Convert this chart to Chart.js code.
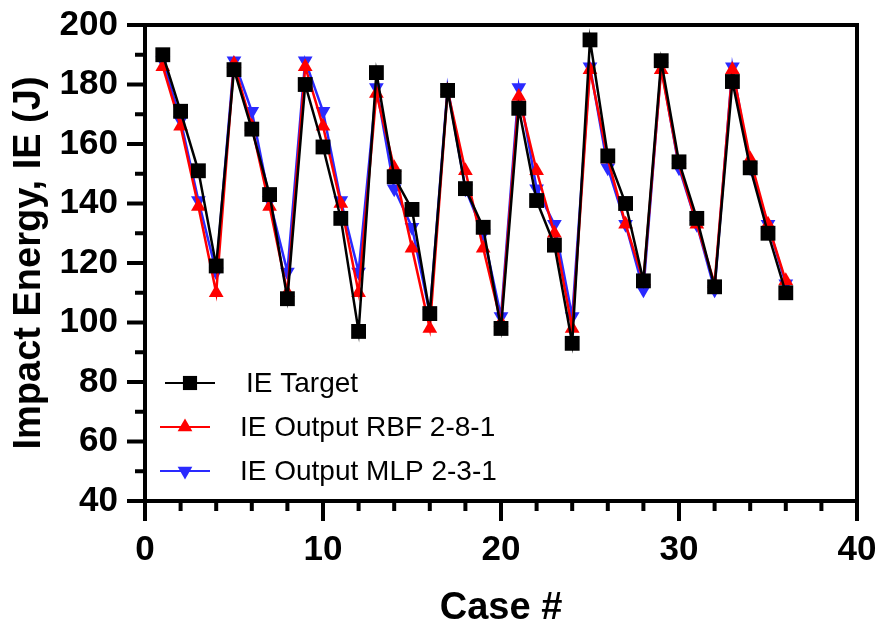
<!DOCTYPE html>
<html>
<head>
<meta charset="utf-8">
<script src="https://cdn.jsdelivr.net/npm/chart.js@4"></script>
<style>
    html, body { margin: 0; padding: 0; background: #ffffff; }
    #wrap { width: 877px; height: 622px; }
</style>
</head>
<body>
<div id="wrap"><canvas id="chart"></canvas></div>
<script>
// Case numbers 1..36
const cases = [1, 2, 3, 4, 5, 6, 7, 8, 9, 10, 11, 12, 13, 14, 15, 16, 17, 18,
    19, 20, 21, 22, 23, 24, 25, 26, 27, 28, 29, 30, 31, 32, 33, 34, 35, 36];

const ieTarget = [190, 171, 151, 119, 185, 165, 143, 108, 180, 159, 135, 97,
    184, 149, 138, 103, 178, 145, 132, 98, 172, 141, 126, 93,
    195, 156, 140, 114, 188, 154, 135, 112, 181, 152, 130, 110];

const ieRbf = [186, 166, 139, 110, 187, 166, 139, 110, 186, 166, 140, 110,
    177, 152, 125, 98, 178, 151, 125, 100, 176, 151, 130, 98,
    185, 155, 133, 114, 185, 153, 133, 113, 185, 155, 133, 114];

const ieMlp = [188, 168, 141, 117, 188, 171, 141, 117, 188, 171, 141, 117,
    179, 145, 132, 103, 179, 145, 130, 102, 179, 145, 133, 102,
    186, 152, 133, 111, 186, 152, 133, 111, 186, 152, 133, 113];

const xTicks = [0, 10, 20, 30, 40];
const yTicks = [40, 60, 80, 100, 120, 140, 160, 180, 200];

const FONT = "'Liberation Sans', Arial, sans-serif";
const BLUE = '#2a2aff';

function toPoints(ys) {
    return cases.map((c, i) => ({ x: c, y: ys[i] }));
}

function noPad(s) {
    s.paddingTop = 0;
    s.paddingBottom = 0;
    s.paddingLeft = 0;
    s.paddingRight = 0;
}

// Box frame plus major/minor ticks, placed with the scales
const framePlugin = {
    id: 'frame',
    afterDraw(chart) {
        const ctx = chart.ctx;
        const a = chart.chartArea;
        const xs = chart.scales.x;
        const ys = chart.scales.y;
        ctx.save();
        ctx.strokeStyle = '#000';
        ctx.lineWidth = 4;
        ctx.strokeRect(a.left, a.top, a.right - a.left, a.bottom - a.top);
        ctx.beginPath();
        for (let v = 0; v <= 40; v += 2) {
            const px = xs.getPixelForValue(v);
            const len = v % 10 === 0 ? 20 : 10;
            ctx.moveTo(px, a.bottom);
            ctx.lineTo(px, a.bottom + len);
        }
        for (let v = 40; v <= 200; v += 10) {
            const py = ys.getPixelForValue(v);
            const len = v % 20 === 0 ? 18 : 10;
            ctx.moveTo(a.left, py);
            ctx.lineTo(a.left - len, py);
        }
        ctx.stroke();
        ctx.restore();
    }
};

// Legend inside the plot, lower left
const legendPlugin = {
    id: 'insideLegend',
    afterDraw(chart) {
        const ctx = chart.ctx;
        const rows = [
            { label: 'IE Target', color: '#000000', style: 'rect', rot: 0, r: 10, y: 383, x0: 165, x1: 215, tx: 246 },
            { label: 'IE Output RBF 2-8-1', color: '#ff0000', style: 'triangle', rot: 0, r: 8.5, y: 427, x0: 160, x1: 210, tx: 240 },
            { label: 'IE Output MLP 2-3-1', color: BLUE, style: 'triangle', rot: 180, r: 8.5, y: 471, x0: 160, x1: 210, tx: 240 }
        ];
        ctx.save();
        rows.forEach(r => {
            ctx.strokeStyle = r.color;
            ctx.lineWidth = 2;
            ctx.beginPath();
            ctx.moveTo(r.x0, r.y);
            ctx.lineTo(r.x1, r.y);
            ctx.stroke();
            ctx.fillStyle = r.color;
            Chart.helpers.drawPoint(ctx, {
                pointStyle: r.style, radius: r.r, rotation: r.rot, borderWidth: 0
            }, (r.x0 + r.x1) / 2, r.y);
            ctx.fillStyle = '#000';
            ctx.font = '28px ' + FONT;
            ctx.textBaseline = 'middle';
            ctx.fillText(r.label, r.tx, r.y + 1);
        });
        ctx.restore();
    }
};

const ctx = document.getElementById('chart').getContext('2d');
new Chart(ctx, {
    type: 'line',
    data: {
        datasets: [
            {
                label: 'IE Target',
                data: toPoints(ieTarget),
                borderColor: '#000000',
                backgroundColor: '#000000',
                borderWidth: 2.5,
                pointStyle: 'rect',
                pointRadius: 10.5,
                pointBorderWidth: 0,
                tension: 0
            },
            {
                label: 'IE Output RBF 2-8-1',
                data: toPoints(ieRbf),
                borderColor: '#ff0000',
                backgroundColor: '#ff0000',
                borderWidth: 2.5,
                pointStyle: 'triangle',
                pointRadius: 8.5,
                pointBorderWidth: 0,
                tension: 0
            },
            {
                label: 'IE Output MLP 2-3-1',
                data: toPoints(ieMlp),
                borderColor: BLUE,
                backgroundColor: BLUE,
                borderWidth: 2.5,
                pointStyle: 'triangle',
                pointRotation: 180,
                pointRadius: 8.5,
                pointBorderWidth: 0,
                tension: 0
            }
        ]
    },
    options: {
        responsive: true,
        maintainAspectRatio: false,
        animation: false,
        layout: { padding: { top: 25, right: 20, left: 0, bottom: 0 } },
        plugins: {
            legend: { display: false },
            tooltip: { enabled: false }
        },
        scales: {
            x: {
                type: 'linear',
                min: 0,
                max: 40,
                afterBuildTicks: (s) => { s.ticks = xTicks.map(v => ({ value: v })); },
                grid: { display: false, drawTicks: false },
                border: { display: false },
                ticks: {
                    padding: 28,
                    color: '#000',
                    font: { family: FONT, size: 35, weight: 'bold' }
                },
                title: {
                    display: true,
                    text: 'Case #',
                    color: '#000',
                    padding: { top: 0, bottom: -9 },
                    font: { family: FONT, size: 38, weight: 'bold' }
                },
                afterFit: (s) => { s.height = 121; noPad(s); }
            },
            y: {
                type: 'linear',
                min: 40,
                max: 200,
                afterBuildTicks: (s) => { s.ticks = yTicks.map(v => ({ value: v })); },
                grid: { display: false, drawTicks: false },
                border: { display: false },
                ticks: {
                    padding: 27,
                    color: '#000',
                    font: { family: FONT, size: 35, weight: 'bold' }
                },
                title: {
                    display: true,
                    text: 'Impact Energy, IE (J)',
                    color: '#000',
                    padding: { top: 7, bottom: 0 },
                    font: { family: FONT, size: 38, weight: 'bold' }
                },
                afterFit: (s) => { s.width = 145; noPad(s); }
            }
        }
    },
    plugins: [framePlugin, legendPlugin]
});
</script>
</body>
</html>
